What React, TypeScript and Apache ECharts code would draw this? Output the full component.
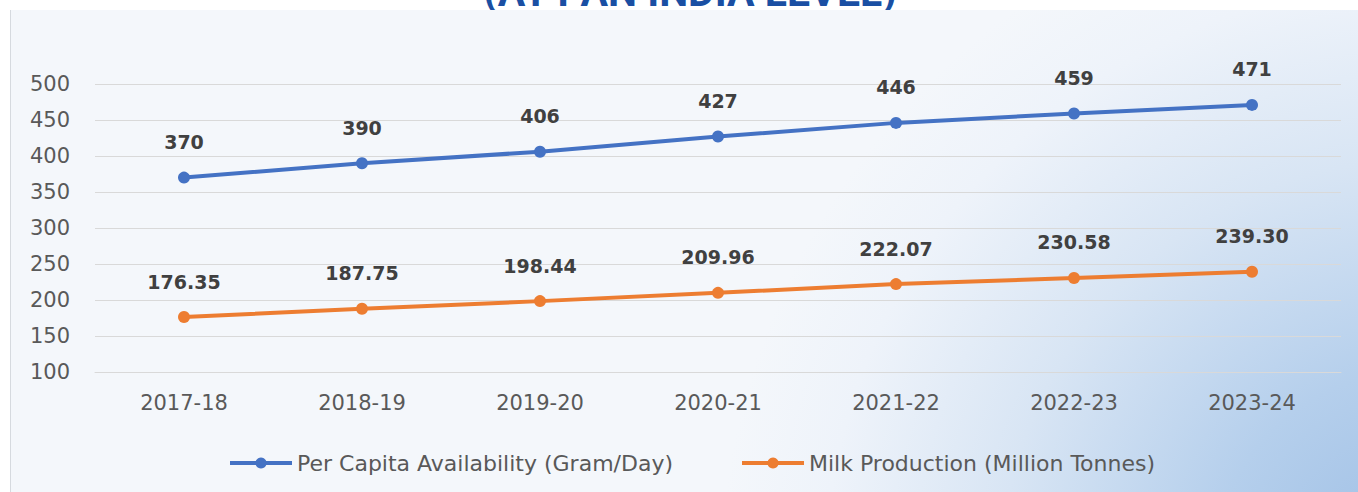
import React, { useEffect, useRef } from "react";
import * as echarts from "echarts";

const categories = ["2017-18", "2018-19", "2019-20", "2020-21", "2021-22", "2022-23", "2023-24"];
const perCapita = [370, 390, 406, 427, 446, 459, 471];
const milkProduction = [176.35, 187.75, 198.44, 209.96, 222.07, 230.58, 239.3];
const yTicks = { min: 100, max: 500, interval: 50 };
const seriesNames = ["Per Capita Availability (Gram/Day)", "Milk Production (Million Tonnes)"];
const titleText = "(AT PAN INDIA LEVEL)";

export default function App() {
  const ref = useRef<HTMLDivElement>(null);
  useEffect(() => {
    if (!ref.current) return;
    const chart = echarts.init(ref.current, undefined, { renderer: "svg" });
    const labelStyle = {
      show: true,
      position: "top" as const,
      distance: 20,
      fontFamily: "DejaVu Sans",
      fontWeight: "bold" as const,
      fontSize: 19,
      color: "#404040",
    };
    chart.setOption({
      animation: false,
      backgroundColor: "#ffffff",
      graphic: [
        {
          type: "text",
          z: -20,
          x: 690,
          y: -8,
          style: {
            text: titleText,
            fontFamily: "Roboto",
            fontWeight: "bold",
            fontSize: 41,
            fill: "#1a4fa3",
            align: "center",
            verticalAlign: "middle",
          },
        },
        {
          type: "rect",
          z: -10,
          silent: true,
          shape: { x: 10, y: 10, width: 1348, height: 482 },
          style: {
            fill: new echarts.graphic.RadialGradient(1420, 580, 700, [
              { offset: 0, color: "#9cbde4" },
              { offset: 0.3, color: "#b5cfec" },
              { offset: 0.6, color: "#d8e5f4" },
              { offset: 0.85, color: "#eef3fa" },
              { offset: 1, color: "#f4f7fb" },
            ], true),
          },
        },
        {
          type: "line",
          z: -9,
          silent: true,
          shape: { x1: 10.5, y1: 10, x2: 10.5, y2: 492 },
          style: { stroke: "#d6dadf", lineWidth: 1 },
        },
      ],
      grid: { left: 95, right: 17, top: 84, bottom: 120 },
      legend: {
        left: 228,
        top: 452,
        padding: 0,
        itemWidth: 62,
        itemHeight: 14,
        itemGap: 67,
        lineStyle: { width: 4 },
        textStyle: { fontFamily: "DejaVu Sans", fontSize: 22, color: "#595959" },
        data: seriesNames,
      },
      xAxis: {
        type: "category",
        data: categories,
        boundaryGap: true,
        axisLine: { show: true, lineStyle: { color: "#d9d9d9", width: 1 } },
        axisTick: { show: false },
        axisLabel: { margin: 20, fontFamily: "DejaVu Sans", fontSize: 21, color: "#595959" },
      },
      yAxis: {
        type: "value",
        min: yTicks.min,
        max: yTicks.max,
        interval: yTicks.interval,
        axisLine: { show: false },
        axisTick: { show: false },
        axisLabel: { margin: 25, fontFamily: "DejaVu Sans", fontSize: 21, color: "#595959" },
        splitLine: { lineStyle: { color: "#d9d9d9", width: 1 } },
      },
      series: [
        {
          name: seriesNames[0],
          type: "line",
          data: perCapita,
          symbol: "circle",
          symbolSize: 12,
          lineStyle: { width: 4, color: "#4472c4" },
          itemStyle: { color: "#4472c4" },
          label: { ...labelStyle, formatter: (p: any) => String(p.value) },
        },
        {
          name: seriesNames[1],
          type: "line",
          data: milkProduction,
          symbol: "circle",
          symbolSize: 12,
          lineStyle: { width: 4, color: "#ed7d31" },
          itemStyle: { color: "#ed7d31" },
          label: { ...labelStyle, formatter: (p: any) => Number(p.value).toFixed(2) },
        },
      ],
    });
    return () => chart.dispose();
  }, []);
  return (
    <div
      ref={ref}
      style={{ position: "fixed", left: 0, top: 0, width: 1358, height: 492 }}
    />
  );
}
